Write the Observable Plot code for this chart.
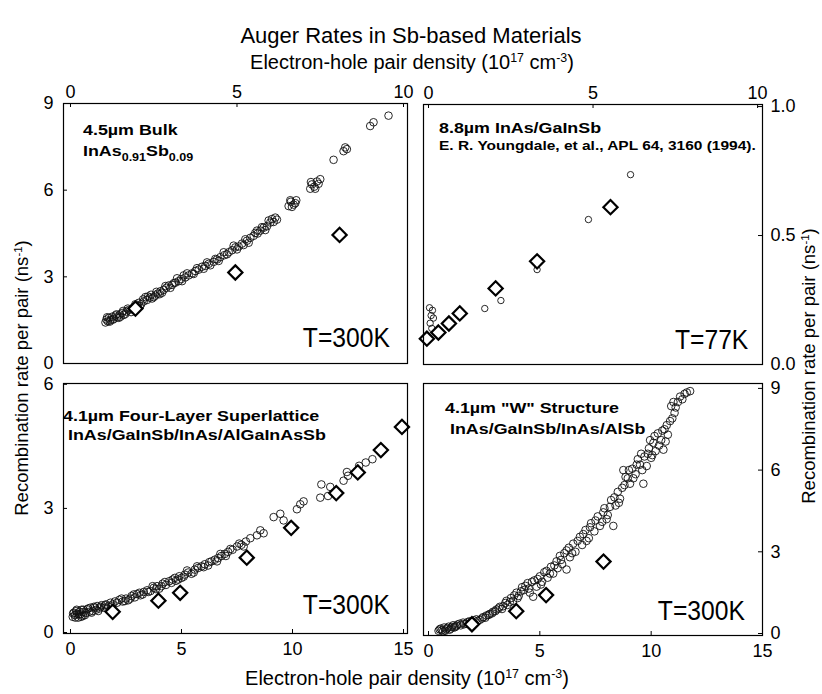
<!DOCTYPE html>
<html><head><meta charset="utf-8">
<script src="https://cdn.jsdelivr.net/npm/d3@7"></script>
<script src="https://cdn.jsdelivr.net/npm/@observablehq/plot@0.6"></script>
<style>
body{margin:0;background:#fff;}
#wrap{position:relative;width:822px;height:694px;font-family:"Liberation Sans",Arial,Helvetica,sans-serif;color:#000;overflow:hidden;}
#wrap svg{position:absolute;left:0;top:0;}
.t{position:absolute;white-space:nowrap;line-height:1;z-index:5;}
.b{font-weight:bold;font-size:15px;transform-origin:0 50%;transform:translateY(-50%) scaleX(1.19);}
.big{font-size:28px;transform-origin:100% 50%;transform:translateY(-50%) scaleX(0.88);}
sup{font-size:62%;vertical-align:0;position:relative;top:-0.55em;}
sub{font-size:70%;vertical-align:0;position:relative;top:0.45em;}
</style></head>
<body>
<div id="wrap">
  <div class="t" style="left:411px;top:36px;transform:translate(-50%,-50%);font-size:22px;">Auger Rates in Sb-based Materials</div>
  <div class="t" style="left:412px;top:62px;transform:translate(-50%,-50%);font-size:20px;">Electron-hole pair density (10<sup>17</sup> cm<sup>-3</sup>)</div>
  <div class="t" style="left:407px;top:678px;transform:translate(-50%,-50%);font-size:20px;">Electron-hole pair density (10<sup>17</sup> cm<sup>-3</sup>)</div>
  <div class="t" style="left:22px;top:378px;transform:translate(-50%,-50%) rotate(-90deg);font-size:18.5px;">Recombination rate per pair (ns<sup>-1</sup>)</div>
  <div class="t" style="left:809px;top:366px;transform:translate(-50%,-50%) rotate(-90deg);font-size:18.5px;">Recombination rate per pair (ns<sup>-1</sup>)</div>

  <div class="t b" style="left:83px;top:129px;">4.5µm Bulk</div>
  <div class="t b" style="left:83px;top:150px;">InAs<sub>0.91</sub>Sb<sub>0.09</sub></div>
  <div class="t big" style="right:432px;top:338px;">T=300K</div>

  <div class="t b" style="left:439px;top:127px;">8.8µm InAs/GaInSb</div>
  <div class="t b" style="left:439px;top:145px;font-size:13px;">E. R. Youngdale, et al., APL 64, 3160 (1994).</div>
  <div class="t big" style="right:74px;top:340px;">T=77K</div>

  <div class="t b" style="left:63px;top:415px;">4.1µm Four-Layer Superlattice</div>
  <div class="t b" style="left:68px;top:434px;">InAs/GaInSb/InAs/AlGaInAsSb</div>
  <div class="t big" style="right:432px;top:605px;">T=300K</div>

  <div class="t b" style="left:445px;top:407px;">4.1µm "W" Structure</div>
  <div class="t b" style="left:450px;top:428px;">InAs/GaInSb/InAs/AlSb</div>
  <div class="t big" style="right:77px;top:611px;">T=300K</div>
</div>
<script>
// ---------------- data (x: 10^17 cm^-3, y: ns^-1) ----------------
const bulkCircles = [
 [1.05,1.42],[1.08,1.52],[1.12,1.46],[1.15,1.58],[1.2,1.5],[1.25,1.62],[1.3,1.55],[1.35,1.66],[1.4,1.6],[1.48,1.7],
 [1.5,1.62],[1.55,1.75],[1.6,1.68],[1.68,1.8],[1.75,1.85],[1.82,1.78],[1.9,1.95],[2.0,2.0],[2.05,2.1],[2.12,2.05],
 [2.2,2.15],[2.25,2.3],[2.3,2.2],[2.38,2.28],[2.45,2.25],[2.55,2.35],[2.62,2.42],[2.7,2.5],[2.75,2.45],[2.8,2.55],
 [2.88,2.62],[2.95,2.7],[3.05,2.72],[3.15,2.8],[3.25,2.85],[3.32,2.92],[3.4,3.05],[3.45,2.98],[3.55,3.05],[3.65,3.12],
 [3.75,3.2],[3.85,3.25],[3.95,3.35],[4.0,3.28],[4.05,3.38],[4.15,3.45],[4.3,3.52],[4.4,3.6],[4.5,3.68],[4.6,3.85],
 [4.62,3.75],[4.75,3.85],[4.85,3.92],[4.95,4.02],[5.05,4.05],[5.15,4.15],[5.2,4.1],[5.3,4.25],[5.4,4.35],[5.5,4.42],
 [5.6,4.6],[5.62,4.5],[5.7,4.6],[5.8,4.7],[5.9,4.75],[6.0,4.88],[6.05,5.0],[6.1,4.9],[6.15,5.05],[6.55,5.45],
 [6.62,5.6],[6.65,5.42],[6.7,5.5],[6.78,5.65],[7.2,6.05],[7.25,6.2],[7.32,6.12],[7.4,6.3],[7.5,6.38],[7.9,7.05],
 [8.2,7.35],[8.25,7.48],[8.3,7.42],[9.0,8.22],[9.1,8.35],[9.55,8.58],
 [1.1,1.6],[1.18,1.45],[1.28,1.52],[1.38,1.7],[1.45,1.58],[1.58,1.82],[1.65,1.72],[1.72,1.9],[1.85,1.88],[1.95,2.05],
 [2.08,1.98],[2.18,2.22],[2.33,2.32],[2.42,2.38],[2.5,2.3],[2.58,2.48],[2.68,2.4],[2.85,2.68],[3.0,2.62],[3.1,2.78],
 [3.2,2.95],[3.35,2.85],[3.5,3.12],[3.7,3.1],[3.8,3.3],[4.1,3.5],[4.2,3.4],[4.35,3.62],[4.45,3.55],[4.7,3.78],
 [4.9,4.08],[5.0,3.95],[5.25,4.3],[5.35,4.18],[5.55,4.52],[5.75,4.72],[5.85,4.62],[5.95,4.95],[6.2,4.98],[6.6,5.65],
 [6.75,5.55],[7.22,6.28],[7.35,6.05],[7.45,6.22]
];
const bulkDiamonds = [[1.95,1.9],[4.95,3.15],[8.08,4.45]];

const lwirCircles = [
 [0.03,0.22],[0.08,0.19],[0.12,0.21],[0.05,0.16],[0.1,0.14],[0.15,0.18],
 [1.71,0.217],[2.2,0.248],[3.3,0.368],[4.86,0.562],[6.14,0.736]
];
const lwirDiamonds = [[-0.05,0.1],[0.3,0.124],[0.62,0.159],[0.95,0.198],[2.04,0.295],[3.3,0.4],[5.53,0.61]];

const flslCircles = [
 [0.1,0.38],[0.15,0.48],[0.2,0.42],[0.25,0.52],[0.3,0.45],[0.35,0.36],[0.4,0.5],[0.45,0.44],[0.5,0.55],[0.55,0.4],
 [0.6,0.5],[0.7,0.47],[0.75,0.56],[0.85,0.5],[0.9,0.6],[1.0,0.52],[1.05,0.62],[1.15,0.55],[1.2,0.64],[1.3,0.58],
 [1.4,0.66],[1.5,0.6],[1.6,0.68],[1.7,0.63],[1.8,0.72],[1.9,0.68],[2.1,0.72],[2.2,0.79],[2.35,0.75],[2.5,0.82],
 [2.6,0.78],[2.75,0.88],[2.9,0.85],[3.0,0.93],[3.15,0.9],[3.3,0.98],[3.45,1.02],[3.6,1.0],[3.75,1.08],[3.9,1.12],
 [4.0,1.06],[4.15,1.18],[4.3,1.15],[4.45,1.24],[4.6,1.28],[4.75,1.25],[4.9,1.36],[5.0,1.32],[5.15,1.4],[5.3,1.45],
 [5.45,1.42],[5.6,1.52],[5.75,1.56],[5.9,1.6],[6.05,1.65],[6.2,1.62],[6.35,1.72],[6.5,1.76],[6.65,1.8],[6.8,1.85],
 [6.95,1.9],[7.1,1.95],[7.3,2.0],[7.5,2.08],[7.7,2.12],[7.9,2.2],[8.1,2.28],[8.4,2.35],[8.55,2.47],[8.7,2.4],
 [9.15,2.79],[9.45,2.87],[9.6,2.71],[10.2,2.98],[10.35,3.1],[10.5,3.17],[11.25,3.26],[11.3,3.58],[11.6,3.3],[11.7,3.52],
 [12.3,3.67],[12.5,3.79],[12.45,3.88],[13.0,4.03],[13.3,4.11],[13.6,4.19],
 [0.12,0.46],[0.22,0.36],[0.28,0.55],[0.38,0.44],[0.48,0.38],[0.58,0.55],[0.65,0.42],[0.8,0.58],[0.95,0.48],[1.1,0.6],
 [1.25,0.52],[1.35,0.62],[1.55,0.66],[1.65,0.58],[1.85,0.65],[2.0,0.75],[2.3,0.82],[2.45,0.76],[2.7,0.82],[2.85,0.92],
 [3.1,0.96],[3.25,0.92],[3.5,0.98],[3.7,1.12],[3.85,1.05],[4.1,1.12],[4.25,1.22],[4.55,1.2],[4.7,1.32],[4.85,1.28],
 [5.1,1.35],[5.25,1.5],[5.55,1.45],[5.7,1.6],[6.0,1.58],[6.25,1.7],[6.6,1.72],[6.75,1.9],[7.0,1.85],[7.2,2.02],
 [7.6,2.15],[7.8,2.08]
];
const flslDiamonds = [[1.9,0.5],[3.96,0.77],[4.94,0.96],[7.94,1.81],[9.94,2.53],[11.97,3.37],[12.94,3.87],[13.98,4.41],[14.93,4.97]];

const wCircles = [
 [0.45,0.1],[0.55,0.18],[0.65,0.08],[0.7,0.22],[0.8,0.15],[0.9,0.25],[1.0,0.18],[1.1,0.3],[1.2,0.24],[1.3,0.33],
 [1.45,0.3],[1.55,0.4],[1.7,0.36],[1.85,0.45],[2.0,0.42],[2.15,0.52],[2.3,0.5],[2.45,0.6],[2.6,0.66],[2.75,0.72],
 [2.9,0.8],[3.05,0.88],[3.2,0.98],[3.3,0.9],[3.45,1.12],[3.55,1.05],[3.7,1.3],[3.8,1.2],[3.95,1.5],[4.05,1.38],
 [4.2,1.7],[4.3,1.6],[4.45,1.85],[4.55,1.5],[4.7,1.35],[4.75,1.95],[4.85,1.72],[5.0,2.1],[5.1,1.9],[5.2,2.25],
 [5.35,2.05],[5.5,2.45],[5.6,2.2],[5.75,2.65],[5.9,2.85],[6.0,2.55],[6.2,2.35],[6.2,3.05],[6.35,2.8],[6.5,3.3],
 [6.6,3.0],[6.8,3.55],[6.9,3.25],[7.05,3.8],[7.2,3.5],[7.3,4.05],[7.45,3.75],[7.6,4.3],[7.8,4.1],[7.9,4.6],
 [8.05,4.35],[8.2,4.9],[8.3,3.95],[8.4,4.7],[8.5,5.2],[8.6,4.95],[8.75,6.0],[8.8,5.45],[8.95,5.7],[9.05,5.5],
 [9.15,6.05],[9.3,5.85],[9.4,6.4],[9.5,6.2],[9.65,5.5],[9.7,6.5],[9.8,6.15],[9.9,6.8],[10.0,6.45],[10.1,7.0],
 [10.2,6.7],[10.3,7.35],[10.45,7.1],[10.55,6.75],[10.6,7.5],[10.75,7.3],[10.85,7.8],[10.9,8.35],[11.05,8.1],[11.2,8.5],
 [11.3,8.7],[11.5,8.8],[11.75,8.9],
 [0.5,0.15],[0.6,0.12],[0.75,0.1],[0.85,0.2],[0.95,0.14],[1.05,0.24],[1.15,0.22],[1.25,0.28],[1.4,0.36],[1.6,0.34],
 [1.75,0.42],[1.9,0.38],[2.05,0.48],[2.2,0.46],[2.4,0.55],[2.55,0.58],[2.7,0.68],[2.85,0.74],[3.0,0.82],[3.15,0.92],
 [3.35,1.0],[3.5,1.2],[3.65,1.15],[3.85,1.4],[4.0,1.3],[4.15,1.55],[4.35,1.75],[4.5,1.65],[4.65,1.9],[4.9,2.0],
 [5.05,1.8],[5.3,2.3],[5.45,2.2],[5.65,2.5],[5.8,2.4],[5.95,2.7],[6.1,2.95],[6.3,3.15],[6.45,2.95],[6.7,3.4],
 [6.95,3.65],[7.1,3.4],[7.25,3.9],[7.5,4.15],[7.7,3.95],[7.85,4.45],[8.0,4.2],[8.15,4.65],[8.35,5.0],[8.55,4.8],
 [8.7,5.35],[8.85,5.75],[9.0,6.0],[9.2,5.7],[9.35,6.2],[9.55,6.6],[9.6,6.0],[9.85,6.6],[9.95,7.1],[10.05,6.55],
 [10.15,7.25],[10.35,6.9],[10.5,7.45],[10.65,7.05],[10.7,7.65],[10.95,7.9],[11.0,8.5],[11.1,8.3],[11.4,8.6],[11.6,8.85]
];
const wDiamonds = [[1.95,0.34],[3.94,0.82],[5.28,1.41],[7.86,2.64]];

const xTicks10 = [0, 5, 10];
const xTicks15 = [0, 5, 10, 15];
const yTicks9 = [0, 3, 6, 9];
const yTicks6 = [0, 3, 6];
const yTicks1 = [0, 0.5, 1];

// ---------------- layout ----------------
const W = 822, H = 694;
const FONT = '"Liberation Sans", Arial, Helvetica, sans-serif';

function panel(f, xd, yd, xt, yt, xa, ya, yfmt, circles, diamonds, cr) {
  const fw = f.r - f.l, fh = f.b - f.t;
  const xtOpt = {x: d => d, stroke: "black", strokeWidth: 1};
  xtOpt[xa === "top" ? "insetBottom" : "insetTop"] = fh - 4;
  const ytOpt = {y: d => d, stroke: "black", strokeWidth: 1};
  ytOpt[ya === "left" ? "insetRight" : "insetLeft"] = fw - 4;
  return Plot.plot({
    width: W, height: H,
    marginLeft: f.l, marginRight: W - f.r, marginTop: f.t, marginBottom: H - f.b,
    x: {domain: xd},
    y: {domain: yd},
    style: {background: "transparent", fontFamily: FONT, fontSize: "18px", color: "black", overflow: "visible"},
    marks: [
      Plot.dot(circles, {x: d => d[0], y: d => d[1], r: cr, stroke: "#111", strokeWidth: 0.9, fill: "none"}),
      Plot.dot(diamonds, {x: d => d[0], y: d => d[1], symbol: "diamond2", r: 6.4, stroke: "black", strokeWidth: 2.2, fill: "white"}),
      Plot.frame({stroke: "black", strokeWidth: 1.2}),
      Plot.tickX(xt, xtOpt),
      Plot.tickY(yt, ytOpt),
      Plot.axisX(xt, {anchor: xa, tickSize: 0, tickPadding: xa === "top" ? 6 : 9, label: null, fontSize: 18}),
      Plot.axisY(yt, {anchor: ya, tickSize: 0, tickPadding: ya === "left" ? 10 : 8, label: null, tickFormat: yfmt, fontSize: 18})
    ]
  });
}

const wrap = document.getElementById("wrap");
const charts = [
  panel({l: 63, r: 407, t: 103, b: 363}, [-0.21, 10.12], [0, 9], xTicks10, yTicks9, "top", "left", d3.format("d"), bulkCircles, bulkDiamonds, 3.8),
  panel({l: 423, r: 762, t: 104, b: 364}, [-0.152, 10.15], [0, 1.008], xTicks10, yTicks1, "top", "right", d3.format(".1f"), lwirCircles, lwirDiamonds, 3.2),
  panel({l: 63, r: 407, t: 383, b: 633}, [-0.315, 15.18], [-0.024, 6.02], xTicks15, yTicks6, "bottom", "left", d3.format("d"), flslCircles, flslDiamonds, 3.8),
  panel({l: 423, r: 762, t: 383, b: 635}, [-0.225, 15.0], [-0.073, 9.18], xTicks15, yTicks9, "bottom", "right", d3.format("d"), wCircles, wDiamonds, 3.8)
];
charts.forEach(c => wrap.insertBefore(c, wrap.firstChild));
</script>
</body></html>
